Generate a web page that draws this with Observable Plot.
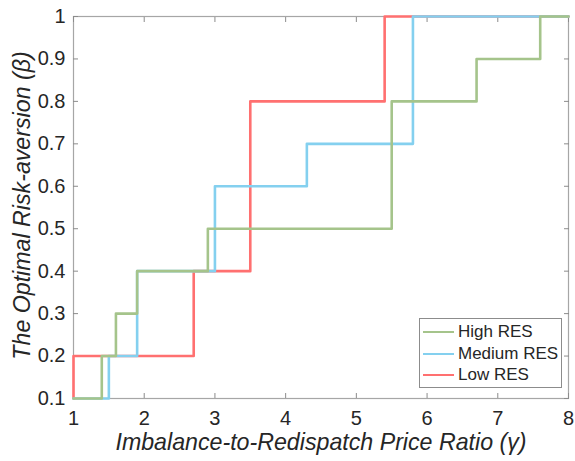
<!DOCTYPE html>
<html>
<head>
<meta charset="utf-8">
<script src="https://cdn.jsdelivr.net/npm/d3@7"></script>
<script src="https://cdn.jsdelivr.net/npm/@observablehq/plot@0.6"></script>
<style>
  html, body { margin: 0; padding: 0; background: #fff; }
  #wrap { position: relative; width: 575px; height: 461px; font-family: "Liberation Sans", Arial, sans-serif; }
  #legend { position: absolute; left: 419px; top: 318px; width: 143px; height: 70px; border: 1px solid #8c8c8c; background: #fff; box-sizing: border-box; }
  .row { position: absolute; left: 0; height: 20px; display: flex; align-items: center; font-size: 17px; color: #262626; white-space: nowrap; }
  .sw { width: 31px; height: 0; border-top: 2.5px solid; margin-left: 3px; margin-right: 4px; flex: none; }
</style>
</head>
<body>
<div id="wrap"></div>
<script>
// Series (step change points, step-after)
const seriesNames = ["High RES", "Medium RES", "Low RES"];
const seriesColors = ["#a5c48b", "#84d0ef", "#ff7070"];
const highX = [1, 1.4, 1.6, 1.9, 2.9, 5.5, 6.7, 7.6, 8];
const highY = [0.1, 0.2, 0.3, 0.4, 0.5, 0.8, 0.9, 1.0, 1.0];
const medX = [1, 1.5, 1.9, 3.0, 4.3, 5.8, 8];
const medY = [0.1, 0.2, 0.4, 0.6, 0.7, 1.0, 1.0];
const lowX = [1, 1, 2.7, 3.5, 5.4, 8];
const lowY = [0.1, 0.2, 0.4, 0.8, 1.0, 1.0];
const xTicks = [1, 2, 3, 4, 5, 6, 7, 8];
const yTicks = [0.1, 0.2, 0.3, 0.4, 0.5, 0.6, 0.7, 0.8, 0.9, 1];
const xLabel = "Imbalance-to-Redispatch Price Ratio (γ)";
const yLabel = "The Optimal Risk-aversion (β)";

const mk = (xs, ys) => xs.map((x, i) => ({x, y: ys[i]}));
const low = mk(lowX, lowY), med = mk(medX, medY), high = mk(highX, highY);

const tickColor = "#8c8c8c";
const chart = Plot.plot({
  width: 575,
  height: 461,
  marginLeft: 73,
  marginRight: 7,
  marginTop: 16,
  marginBottom: 63,
  style: {fontFamily: "'Liberation Sans', Arial, sans-serif", color: "#262626", background: "#fff"},
  x: {domain: [1, 8]},
  y: {domain: [0.1, 1]},
  marks: [
    Plot.frame({stroke: "#a6a6a6", strokeWidth: 1.2}),
    Plot.axisX(xTicks, {anchor: "bottom", tickSize: -5, stroke: tickColor, tickFormat: () => "", label: null}),
    Plot.axisX(xTicks, {anchor: "top", tickSize: -5, stroke: tickColor, tickFormat: () => "", label: null}),
    Plot.axisY(yTicks, {anchor: "left", tickSize: -5, stroke: tickColor, tickFormat: () => "", label: null}),
    Plot.axisY(yTicks, {anchor: "right", tickSize: -5, stroke: tickColor, tickFormat: () => "", label: null}),
    Plot.axisX(xTicks, {anchor: "bottom", tickSize: 0, tickPadding: 12, fontSize: 20, fill: "#262626", tickFormat: d => String(d), label: null}),
    Plot.axisY(yTicks, {anchor: "left", tickSize: 0, tickPadding: 8, fontSize: 20, fill: "#262626", tickFormat: d => String(d), label: null}),
    Plot.line(low, {x: "x", y: "y", curve: "step-after", stroke: seriesColors[2], strokeWidth: 2.6}),
    Plot.line(med, {x: "x", y: "y", curve: "step-after", stroke: seriesColors[1], strokeWidth: 2.6}),
    Plot.line(high, {x: "x", y: "y", curve: "step-after", stroke: seriesColors[0], strokeWidth: 2.6}),
    Plot.text([xLabel], {frameAnchor: "bottom", dy: 44, fontSize: 23.2, fontStyle: "italic", fill: "#262626", textAnchor: "middle", lineAnchor: "middle"}),
    Plot.text([yLabel], {frameAnchor: "left", dx: -51, dy: -2, rotate: -90, fontSize: 23.2, fontStyle: "italic", fill: "#262626", textAnchor: "middle", lineAnchor: "middle"})
  ]
});

const wrap = document.getElementById("wrap");
wrap.appendChild(chart);
const legend = document.createElement("div");
legend.id = "legend";
seriesNames.forEach((name, i) => {
  const row = document.createElement("div");
  row.className = "row";
  row.style.top = (3 + i * 21.5) + "px";
  const sw = document.createElement("span");
  sw.className = "sw";
  sw.style.borderTopColor = seriesColors[i];
  const t = document.createElement("span");
  t.textContent = name;
  row.appendChild(sw);
  row.appendChild(t);
  legend.appendChild(row);
});
wrap.appendChild(legend);
</script>
</body>
</html>
